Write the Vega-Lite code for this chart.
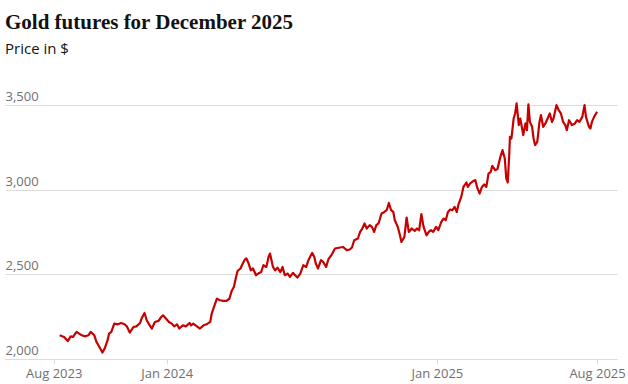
{
  "$schema": "https://vega.github.io/schema/vega-lite/v6.json",
  "width": 612,
  "height": 264,
  "autosize": "none",
  "padding": {"left": 5, "top": 95, "right": 11, "bottom": 25},
  "background": "#ffffff",
  "title": {
    "text": "Gold futures for December 2025",
    "subtitle": "Price in $",
    "anchor": "start",
    "frame": "group",
    "font": "Liberation Serif",
    "fontSize": 21,
    "fontWeight": "bold",
    "color": "#121212",
    "subtitleFont": "Open Sans",
    "subtitleFontSize": 15,
    "subtitleColor": "#121212",
    "subtitlePadding": 9,
    "offset": 34
  },
  "config": {"view": {"stroke": null}},
  "data": {"values": [
    {"date": "2023-08-09", "price": 2140}, {"date": "2023-08-15", "price": 2130}, {"date": "2023-08-20", "price": 2106},
    {"date": "2023-08-24", "price": 2134}, {"date": "2023-08-27", "price": 2130}, {"date": "2023-09-01", "price": 2160},
    {"date": "2023-09-08", "price": 2140}, {"date": "2023-09-12", "price": 2134}, {"date": "2023-09-17", "price": 2140},
    {"date": "2023-09-20", "price": 2160}, {"date": "2023-09-25", "price": 2140}, {"date": "2023-09-28", "price": 2100},
    {"date": "2023-10-03", "price": 2062}, {"date": "2023-10-06", "price": 2038}, {"date": "2023-10-09", "price": 2062},
    {"date": "2023-10-13", "price": 2111}, {"date": "2023-10-15", "price": 2150}, {"date": "2023-10-18", "price": 2160},
    {"date": "2023-10-22", "price": 2209}, {"date": "2023-10-27", "price": 2205}, {"date": "2023-10-31", "price": 2213},
    {"date": "2023-11-05", "price": 2205}, {"date": "2023-11-08", "price": 2193}, {"date": "2023-11-12", "price": 2156},
    {"date": "2023-11-17", "price": 2189}, {"date": "2023-11-21", "price": 2193}, {"date": "2023-11-26", "price": 2213},
    {"date": "2023-11-28", "price": 2239}, {"date": "2023-12-02", "price": 2272}, {"date": "2023-12-05", "price": 2229},
    {"date": "2023-12-09", "price": 2199}, {"date": "2023-12-12", "price": 2180}, {"date": "2023-12-16", "price": 2219},
    {"date": "2023-12-21", "price": 2225}, {"date": "2023-12-24", "price": 2245}, {"date": "2023-12-27", "price": 2258},
    {"date": "2023-12-31", "price": 2239}, {"date": "2024-01-04", "price": 2219}, {"date": "2024-01-08", "price": 2209},
    {"date": "2024-01-11", "price": 2193}, {"date": "2024-01-15", "price": 2205}, {"date": "2024-01-18", "price": 2180},
    {"date": "2024-01-23", "price": 2199}, {"date": "2024-01-27", "price": 2193}, {"date": "2024-02-01", "price": 2213},
    {"date": "2024-02-03", "price": 2199}, {"date": "2024-02-06", "price": 2209}, {"date": "2024-02-11", "price": 2193},
    {"date": "2024-02-15", "price": 2180}, {"date": "2024-02-20", "price": 2199}, {"date": "2024-02-24", "price": 2205},
    {"date": "2024-02-29", "price": 2219}, {"date": "2024-03-02", "price": 2268}, {"date": "2024-03-05", "price": 2307},
    {"date": "2024-03-09", "price": 2357}, {"date": "2024-03-13", "price": 2347}, {"date": "2024-03-18", "price": 2343},
    {"date": "2024-03-22", "price": 2343}, {"date": "2024-03-26", "price": 2357}, {"date": "2024-03-29", "price": 2402},
    {"date": "2024-04-01", "price": 2426}, {"date": "2024-04-04", "price": 2485}, {"date": "2024-04-06", "price": 2520},
    {"date": "2024-04-10", "price": 2535}, {"date": "2024-04-13", "price": 2564}, {"date": "2024-04-16", "price": 2588},
    {"date": "2024-04-18", "price": 2594}, {"date": "2024-04-21", "price": 2564}, {"date": "2024-04-24", "price": 2524},
    {"date": "2024-04-27", "price": 2535}, {"date": "2024-05-01", "price": 2495}, {"date": "2024-05-04", "price": 2505},
    {"date": "2024-05-08", "price": 2514}, {"date": "2024-05-11", "price": 2554}, {"date": "2024-05-15", "price": 2544},
    {"date": "2024-05-18", "price": 2603}, {"date": "2024-05-20", "price": 2623}, {"date": "2024-05-24", "price": 2544},
    {"date": "2024-05-27", "price": 2524}, {"date": "2024-05-30", "price": 2540}, {"date": "2024-06-03", "price": 2514},
    {"date": "2024-06-06", "price": 2544}, {"date": "2024-06-09", "price": 2495}, {"date": "2024-06-13", "price": 2505},
    {"date": "2024-06-16", "price": 2485}, {"date": "2024-06-20", "price": 2509}, {"date": "2024-06-23", "price": 2495},
    {"date": "2024-06-26", "price": 2481}, {"date": "2024-06-30", "price": 2505}, {"date": "2024-07-04", "price": 2554},
    {"date": "2024-07-08", "price": 2544}, {"date": "2024-07-11", "price": 2584}, {"date": "2024-07-16", "price": 2627},
    {"date": "2024-07-19", "price": 2603}, {"date": "2024-07-21", "price": 2564}, {"date": "2024-07-24", "price": 2535},
    {"date": "2024-07-28", "price": 2584}, {"date": "2024-07-31", "price": 2574}, {"date": "2024-08-04", "price": 2544},
    {"date": "2024-08-07", "price": 2588}, {"date": "2024-08-12", "price": 2620}, {"date": "2024-08-16", "price": 2653},
    {"date": "2024-08-23", "price": 2659}, {"date": "2024-08-27", "price": 2662}, {"date": "2024-09-01", "price": 2643},
    {"date": "2024-09-05", "price": 2647}, {"date": "2024-09-08", "price": 2659}, {"date": "2024-09-11", "price": 2702},
    {"date": "2024-09-16", "price": 2712}, {"date": "2024-09-19", "price": 2751}, {"date": "2024-09-22", "price": 2771},
    {"date": "2024-09-25", "price": 2801}, {"date": "2024-09-28", "price": 2771}, {"date": "2024-10-02", "price": 2791},
    {"date": "2024-10-05", "price": 2781}, {"date": "2024-10-08", "price": 2751}, {"date": "2024-10-11", "price": 2791},
    {"date": "2024-10-14", "price": 2801}, {"date": "2024-10-18", "price": 2860}, {"date": "2024-10-22", "price": 2869},
    {"date": "2024-10-25", "price": 2879}, {"date": "2024-10-28", "price": 2922}, {"date": "2024-10-31", "price": 2879},
    {"date": "2024-11-03", "price": 2869}, {"date": "2024-11-05", "price": 2820}, {"date": "2024-11-09", "price": 2781},
    {"date": "2024-11-12", "price": 2731}, {"date": "2024-11-14", "price": 2692}, {"date": "2024-11-18", "price": 2721},
    {"date": "2024-11-21", "price": 2836}, {"date": "2024-11-24", "price": 2751}, {"date": "2024-11-28", "price": 2771},
    {"date": "2024-12-02", "price": 2757}, {"date": "2024-12-05", "price": 2771}, {"date": "2024-12-08", "price": 2761},
    {"date": "2024-12-11", "price": 2856}, {"date": "2024-12-14", "price": 2781}, {"date": "2024-12-18", "price": 2731},
    {"date": "2024-12-21", "price": 2751}, {"date": "2024-12-24", "price": 2761}, {"date": "2024-12-27", "price": 2751},
    {"date": "2024-12-31", "price": 2781}, {"date": "2025-01-03", "price": 2761}, {"date": "2025-01-07", "price": 2810},
    {"date": "2025-01-10", "price": 2830}, {"date": "2025-01-13", "price": 2820}, {"date": "2025-01-16", "price": 2869},
    {"date": "2025-01-19", "price": 2883}, {"date": "2025-01-22", "price": 2879}, {"date": "2025-01-25", "price": 2899},
    {"date": "2025-01-28", "price": 2869}, {"date": "2025-01-30", "price": 2909}, {"date": "2025-02-03", "price": 2958},
    {"date": "2025-02-06", "price": 3017}, {"date": "2025-02-10", "price": 3043}, {"date": "2025-02-12", "price": 3017},
    {"date": "2025-02-15", "price": 3037}, {"date": "2025-02-19", "price": 3051}, {"date": "2025-02-22", "price": 3057},
    {"date": "2025-02-25", "price": 3008}, {"date": "2025-02-28", "price": 2978}, {"date": "2025-03-03", "price": 3017},
    {"date": "2025-03-06", "price": 3031}, {"date": "2025-03-09", "price": 3017}, {"date": "2025-03-12", "price": 3096},
    {"date": "2025-03-15", "price": 3106}, {"date": "2025-03-17", "price": 3141}, {"date": "2025-03-21", "price": 3116},
    {"date": "2025-03-24", "price": 3122}, {"date": "2025-03-28", "price": 3194}, {"date": "2025-03-31", "price": 3234},
    {"date": "2025-04-03", "price": 3185}, {"date": "2025-04-05", "price": 3067}, {"date": "2025-04-07", "price": 3043},
    {"date": "2025-04-09", "price": 3204}, {"date": "2025-04-10", "price": 3313}, {"date": "2025-04-12", "price": 3303},
    {"date": "2025-04-15", "price": 3421}, {"date": "2025-04-17", "price": 3451}, {"date": "2025-04-19", "price": 3510},
    {"date": "2025-04-22", "price": 3382}, {"date": "2025-04-24", "price": 3421}, {"date": "2025-04-26", "price": 3372},
    {"date": "2025-04-28", "price": 3323}, {"date": "2025-05-01", "price": 3392}, {"date": "2025-05-03", "price": 3352},
    {"date": "2025-05-05", "price": 3505}, {"date": "2025-05-07", "price": 3401}, {"date": "2025-05-10", "price": 3372},
    {"date": "2025-05-12", "price": 3303}, {"date": "2025-05-14", "price": 3264}, {"date": "2025-05-17", "price": 3283},
    {"date": "2025-05-20", "price": 3401}, {"date": "2025-05-22", "price": 3441}, {"date": "2025-05-25", "price": 3372},
    {"date": "2025-05-28", "price": 3392}, {"date": "2025-05-31", "price": 3421}, {"date": "2025-06-03", "price": 3451},
    {"date": "2025-06-06", "price": 3401}, {"date": "2025-06-08", "price": 3421}, {"date": "2025-06-12", "price": 3500},
    {"date": "2025-06-15", "price": 3471}, {"date": "2025-06-18", "price": 3451}, {"date": "2025-06-21", "price": 3401},
    {"date": "2025-06-24", "price": 3382}, {"date": "2025-06-26", "price": 3352}, {"date": "2025-06-29", "price": 3411},
    {"date": "2025-07-03", "price": 3382}, {"date": "2025-07-07", "price": 3392}, {"date": "2025-07-10", "price": 3411},
    {"date": "2025-07-13", "price": 3401}, {"date": "2025-07-17", "price": 3431}, {"date": "2025-07-20", "price": 3500},
    {"date": "2025-07-22", "price": 3431}, {"date": "2025-07-26", "price": 3372}, {"date": "2025-07-28", "price": 3362},
    {"date": "2025-07-30", "price": 3401}, {"date": "2025-08-02", "price": 3431}, {"date": "2025-08-06", "price": 3461}
  ]},
  "mark": {"type": "line", "color": "#c70000", "strokeWidth": 2.2, "strokeJoin": "round", "clip": false},
  "encoding": {
    "x": {
      "field": "date",
      "type": "temporal",
      "scale": {"type": "utc", "domain": [{"year": 2023, "month": 5, "date": 27, "utc": true}, {"year": 2025, "month": 9, "date": 2, "utc": true}], "nice": false},
      "axis": {
        "title": null,
        "values": [
          {"year": 2023, "month": 8, "date": 1, "utc": true},
          {"year": 2024, "month": 1, "date": 1, "utc": true},
          {"year": 2025, "month": 1, "date": 1, "utc": true},
          {"year": 2025, "month": 8, "date": 6, "utc": true}
        ],
        "labelExpr": "utcFormat(datum.value, '%b %Y')",
        "grid": false,
        "domain": true,
        "domainColor": "#dcdcdc",
        "domainWidth": 1,
        "ticks": true,
        "tickColor": "#dcdcdc",
        "tickSize": 5,
        "labelFont": "Open Sans",
        "labelFontSize": 13,
        "labelColor": "#707070",
        "labelPadding": 3,
        "labelFlush": false
      }
    },
    "y": {
      "field": "price",
      "type": "quantitative",
      "scale": {"domain": [2000, 3560], "nice": false, "zero": false},
      "axis": {
        "title": null,
        "values": [2000, 2500, 3000, 3500],
        "format": ",d",
        "grid": true,
        "gridColor": "#dcdcdc",
        "gridWidth": 1,
        "domain": false,
        "ticks": false,
        "tickSize": 0,
        "labelAlign": "left",
        "labelBaseline": "alphabetic",
        "labelPadding": 0,
        "labelOffset": -4.5,
        "labelFont": "Open Sans",
        "labelFontSize": 13,
        "labelColor": "#707070"
      }
    }
  }
}
